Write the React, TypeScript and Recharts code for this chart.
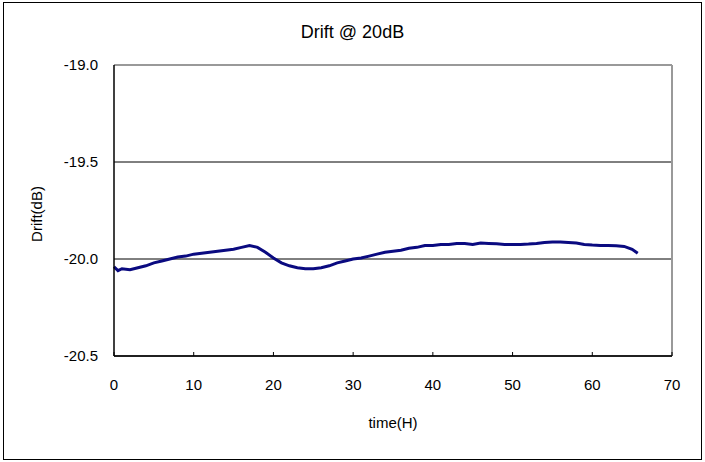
import { LineChart, Line, XAxis, YAxis, CartesianGrid, ReferenceLine } from "recharts";

const FONT = "'Liberation Sans', Arial, sans-serif";

const hours = [
  0, 0.5, 1, 2, 3, 4, 5, 6, 7, 8, 9, 10, 11, 12, 13, 14, 15, 16, 17, 18, 19, 20,
  21, 22, 23, 24, 25, 26, 27, 28, 29, 30, 31, 32, 33, 34, 35, 36, 37, 38, 39, 40,
  41, 42, 43, 44, 45, 46, 47, 48, 49, 50, 51, 52, 53, 54, 55, 56, 57, 58, 59, 60,
  61, 62, 63, 64, 65, 65.7,
];

const drift = [
  -20.04, -20.06, -20.05, -20.055, -20.045, -20.035, -20.02, -20.01, -20.0, -19.99,
  -19.985, -19.975, -19.97, -19.965, -19.96, -19.955, -19.95, -19.94, -19.93,
  -19.94, -19.965, -19.995, -20.02, -20.035, -20.045, -20.05, -20.05, -20.045,
  -20.035, -20.02, -20.01, -20.0, -19.995, -19.985, -19.975, -19.965, -19.96,
  -19.955, -19.945, -19.94, -19.93, -19.93, -19.925, -19.925, -19.92, -19.92,
  -19.925, -19.918, -19.92, -19.922, -19.925, -19.925, -19.925, -19.923, -19.92,
  -19.915, -19.912, -19.912, -19.915, -19.918, -19.925, -19.928, -19.93, -19.93,
  -19.932, -19.935, -19.95, -19.97,
];

const xTicks = [0, 10, 20, 30, 40, 50, 60, 70];
const yTicks = [-20.5, -20.0, -19.5, -19.0];

const data = hours.map((t, i) => ({ t, v: drift[i] }));

const YLabel = () => (
  <text
    x={36}
    y={214}
    transform="rotate(-90 36 214)"
    textAnchor="middle"
    dominantBaseline="central"
    style={{ fontFamily: FONT, fontSize: 15, fill: "#000" }}
  >
    Drift(dB)
  </text>
);

export default function App() {
  return (
    <div style={{ position: "absolute", left: 0, top: 0, width: 705, height: 462, background: "#fff" }}>
      <div
        style={{
          position: "absolute",
          left: 3,
          top: 2,
          width: 697,
          height: 456,
          border: "1.5px solid #000",
        }}
      />
      <div
        style={{
          position: "absolute",
          left: 0,
          top: 22,
          width: 705,
          textAlign: "center",
          fontFamily: FONT,
          fontSize: 18,
          color: "#000",
        }}
      >
        Drift @ 20dB
      </div>
      <div style={{ position: "absolute", left: 0, top: 0 }}>
        <LineChart width={705} height={462} data={data} margin={{ top: 65, right: 33, bottom: 76, left: 54 }}>
          <CartesianGrid vertical={false} stroke="#000" strokeWidth={1} />
          <ReferenceLine y={-19.0} stroke="#999" strokeWidth={2} />
          <ReferenceLine x={70} stroke="#999" strokeWidth={2} />
          <XAxis
            dataKey="t"
            type="number"
            domain={[0, 70]}
            ticks={xTicks}
            axisLine={{ stroke: "#000", strokeWidth: 1.5 }}
            tickLine={{ stroke: "#000" }}
            tickSize={-4}
            tickMargin={27}
            height={30}
            tick={{ fontFamily: FONT, fontSize: 15, fill: "#000" }}
            label={{
              value: "time(H)",
              position: "bottom",
              offset: 31,
              style: { fontFamily: FONT, fontSize: 15, fill: "#000" },
            }}
          />
          <YAxis
            type="number"
            domain={[-20.5, -19.0]}
            ticks={yTicks}
            tickFormatter={(v: number) => v.toFixed(1)}
            axisLine={{ stroke: "#000", strokeWidth: 1.5 }}
            tickLine={false}
            tickMargin={10}
            width={60}
            tick={{ fontFamily: FONT, fontSize: 15, fill: "#000" }}
            label={<YLabel />}
          />
          <Line
            type="linear"
            dataKey="v"
            stroke="#0a0a80"
            strokeWidth={3}
            dot={false}
            isAnimationActive={false}
          />
        </LineChart>
      </div>
    </div>
  );
}
